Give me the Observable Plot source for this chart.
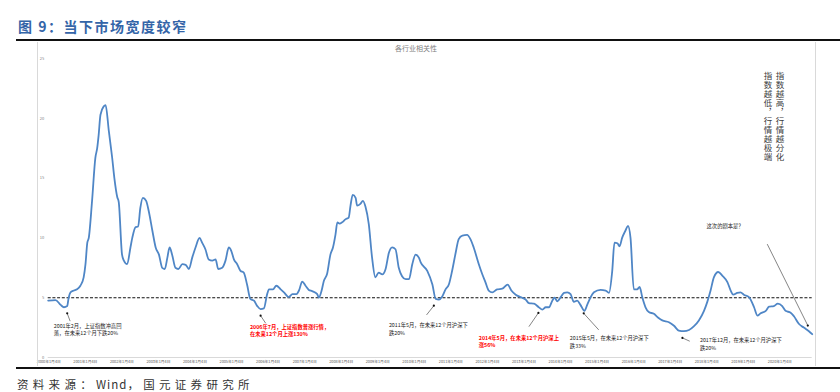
<!DOCTYPE html>
<html><head><meta charset="utf-8">
<script src="https://cdn.jsdelivr.net/npm/d3@7"></script>
<script src="https://cdn.jsdelivr.net/npm/@observablehq/plot@0.6"></script>
<style>
body{margin:0;width:840px;height:392px;position:relative;overflow:hidden;background:#fff;font-family:"Noto Sans CJK SC","Noto Sans",sans-serif;}
.abs{position:absolute;white-space:nowrap}
#chart svg{position:absolute;left:0;top:0}
</style></head><body>
<div id="chart" class="abs" style="left:0;top:0;width:840px;height:392px"></div>
<div class="abs" style="left:37px;top:42px;width:777px;height:324px;border-left:1px solid #d9d9d9;border-right:1px solid #d9d9d9"></div>
<div class="abs" style="left:18px;top:18px;font-size:14px;line-height:16px;font-weight:bold;color:#3465a8;letter-spacing:1.5px">图 9：当下市场宽度较窄</div>
<div class="abs" style="left:16px;top:39px;width:824px;height:2px;background:#111"></div>
<div class="abs" style="left:395px;top:44px;font-size:7px;line-height:8px;color:#808080">各行业相关性</div>
<div class="abs" style="left:762px;top:72px;font-size:8.5px;line-height:12px;letter-spacing:0.5px;color:#404040;writing-mode:vertical-rl">指数越高，行情越分化<br>指数越低，行情越极端</div>
<div class="abs" style="left:16px;top:367px;width:824px;height:2px;background:#111"></div>
<div class="abs" style="left:17px;top:377px;font-size:11.5px;line-height:14px;color:#333;letter-spacing:4.3px">资料来源：<span style="letter-spacing:1px">Wind</span>，国元证券研究所</div>
<script>
// Series: time (decimal year) and breadth index value
const years = [
2000.00,2000.20,2000.34,2000.43,2000.52,2000.56,2000.61,2000.70,2000.79,2000.88,2000.97,
2001.02,2001.07,2001.11,2001.20,2001.29,2001.34,2001.38,2001.43,2001.52,2001.57,2001.66,2001.75,2001.81,2001.89,2001.93,
2002.02,2002.07,2002.16,2002.25,2002.30,2002.39,2002.46,2002.52,2002.59,2002.68,2002.75,2002.85,2002.94,
2003.03,2003.12,2003.19,2003.26,2003.32,2003.39,2003.48,2003.56,2003.67,2003.76,2003.85,2003.94,
2004.03,2004.14,2004.21,2004.30,2004.39,2004.49,2004.58,2004.65,2004.76,2004.85,2004.94,
2005.01,2005.08,2005.17,2005.26,2005.35,2005.44,2005.53,2005.63,2005.72,2005.81,2005.90,2005.99,
2006.04,2006.15,2006.24,2006.36,2006.45,2006.58,2006.68,2006.79,2006.86,2006.95,
2007.04,2007.13,2007.22,2007.36,2007.40,2007.48,2007.54,2007.63,2007.72,2007.79,2007.86,2007.91,2007.97,
2008.04,2008.13,2008.22,2008.27,2008.33,2008.41,2008.45,2008.54,2008.61,2008.68,2008.77,2008.86,2008.95,
2009.04,2009.14,2009.23,2009.32,2009.41,2009.50,2009.59,2009.68,2009.78,2009.87,2009.96,
2010.05,2010.14,2010.19,2010.37,2010.51,2010.60,2010.69,2010.78,2010.87,2010.96,
2011.05,2011.14,2011.23,2011.33,2011.46,2011.55,2011.64,2011.78,2011.87,2011.96,
2012.05,2012.15,2012.28,2012.42,2012.57,2012.67,2012.79,2012.92,
2013.06,2013.15,2013.29,2013.42,2013.52,2013.61,2013.70,2013.79,2013.85,2013.93,
2014.02,2014.11,2014.20,2014.29,2014.38,2014.47,2014.56,2014.67,2014.75,2014.84,2014.93,
2015.11,2015.25,2015.34,2015.43,2015.49,2015.57,2015.63,2015.70,2015.79,2015.86,2015.93,
2016.02,2016.11,2016.18,2016.25,2016.34,2016.43,2016.57,2016.68,2016.80,2016.98,
2017.12,2017.25,2017.39,2017.53,2017.66,2017.80,2017.94,
2018.03,2018.12,2018.21,2018.33,2018.44,2018.58,2018.67,2018.74,2018.85,2018.94,
2019.03,2019.17,2019.31,2019.40,2019.49,2019.63,2019.72,2019.85,2019.96,
2020.08,2020.17,2020.31,2020.40,2020.54,2020.67,2020.81,2020.90
];
const values = [
4.75,4.8,4.4,4.2,4.3,5.0,5.45,5.6,5.7,6.0,6.7,
7.8,9.6,10.0,13.1,16.7,17.5,18.6,20.3,21.0,21.1,18.9,16.7,15.0,13.4,13.0,
8.6,8.1,7.8,9.2,10.0,10.9,10.95,12.5,13.35,13.1,12.25,10.6,9.2,
8.6,7.5,7.4,8.35,9.2,8.6,7.5,7.4,7.8,7.75,7.4,8.35,
9.2,10.0,9.6,9.05,8.2,8.1,8.2,7.4,7.5,8.1,9.2,
8.9,8.2,7.8,7.25,7.1,6.1,4.9,4.75,4.3,4.05,4.1,5.3,
5.7,5.7,6.0,5.7,5.45,5.05,5.3,5.3,5.6,6.35,
6.0,5.65,5.55,5.3,5.0,5.6,6.4,7.0,8.6,9.2,10.3,11.3,11.2,
11.3,11.55,11.7,12.7,13.6,13.35,12.7,12.85,13.1,12.6,11.15,8.35,6.7,
7.1,6.95,7.4,8.75,9.2,9.05,7.5,6.8,6.55,6.55,7.8,
8.6,8.35,7.95,7.25,6.1,4.9,4.85,5.1,5.7,6.1,
7.25,8.65,9.9,10.2,10.25,9.9,9.2,7.8,7.0,6.3,
5.6,5.45,5.7,5.75,6.1,5.6,5.25,5.05,
4.85,4.55,4.5,4.2,4.0,4.2,4.2,4.75,5.0,4.7,
5.05,5.4,5.45,5.3,4.65,4.75,4.4,3.9,4.45,5.05,5.45,
5.65,5.6,5.4,7.25,9.6,9.55,9.3,10.0,10.6,11.0,10.0,
5.7,5.7,5.9,5.05,4.2,3.8,3.65,3.35,3.1,2.95,
2.65,2.25,2.2,2.3,2.6,3.1,3.9,
4.65,5.6,6.7,7.15,6.85,6.3,5.6,5.25,5.4,5.45,
5.25,5.05,4.2,3.5,3.7,3.9,4.25,4.3,4.5,
4.3,3.9,3.75,3.45,2.8,2.5,2.2,1.95
];
const yTicks = [0, 5, 10, 15, 20, 25];
const tickYears = [2000,2001,2002,2003,2004,2005,2006,2007,2008,2009,2010,2011,2012,2013,2014,2015,2016,2017,2018,2019,2020];
const tickLabels = ["2000年1月4日","2001年1月4日","2002年1月4日","2003年1月4日","2004年1月4日","2005年1月4日","2006年1月4日","2007年1月4日","2008年1月4日","2009年1月4日","2010年1月4日","2011年1月4日","2012年1月4日","2013年1月4日","2014年1月4日","2015年1月4日","2016年1月4日","2017年1月4日","2018年1月4日","2019年1月4日","2020年1月4日"];
const refLevel = [5];

// Annotations (anchored in data space)
const annTexts = [
  "2001年2月，上证指数冲高回\n落，在未来12个月下跌20%",
  "2006年7月，上证指数普涨行情，\n在未来12个月上涨130%",
  "2011年5月，在未来12个月沪深下\n跌20%",
  "2014年5月，在未来12个月沪深上\n涨56%",
  "2015年5月，在未来12个月沪深下\n跌33%",
  "2017年12月，在未来12个月沪深下\n跌20%",
  "这次的剧本是？"
];
const annX = [2000.153, 2005.52, 2009.32, 2011.78, 2014.27, 2017.83, 2018.01];
const annY = [2.96, 2.875, 3.0, 1.96, 1.92, 1.75, 11.25];
const annRed = [false, true, false, true, false, false, false];
const arrFromX = [2000.60, 2005.95, 2010.35, 2013.15, 2015.06, 2017.55, 2019.67];
const arrFromY = [3.04, 2.86, 3.56, 2.58, 2.31, 1.36, 9.48];
const arrToX = [2000.52, 2005.81, 2010.55, 2013.41, 2014.65, 2017.35, 2020.78];
const arrToY = [3.69, 3.5, 4.33, 3.73, 3.69, 1.64, 2.67];

const series = years.map((t, i) => ({t, v: values[i]}));
const anns = annTexts.map((text, i) => ({text, x: annX[i], y: annY[i], red: annRed[i]}));
const arrows = arrFromX.map((x, i) => ({x1: x, y1: arrFromY[i], x2: arrToX[i], y2: arrToY[i]}));
const tickPos = tickYears.map(y => y + 0.016);

const plot = Plot.plot({
  width: 840, height: 392,
  marginLeft: 47.7, marginRight: 28.3, marginTop: 58, marginBottom: 35,
  style: {background: "transparent", fontFamily: '"Noto Sans CJK SC","Noto Sans",sans-serif', overflow: "visible"},
  x: {type: "linear", domain: [years[0], years[years.length - 1]]},
  y: {domain: [0, 25]},
  marks: [
    Plot.ruleY([0], {stroke: "#d9d9d9", strokeWidth: 1}),
    Plot.axisY(yTicks, {tickSize: 0, tickPadding: 4, fontSize: 4, fill: "#7f7f7f", label: null}),
    Plot.axisX(tickPos, {tickSize: 0, tickPadding: 3, fontSize: 3.8, fill: "#595959", label: null,
      tickFormat: d => tickLabels[tickPos.indexOf(d)]}),
    Plot.ruleY(refLevel, {stroke: "#111", strokeWidth: 1.1, strokeDasharray: "3,1.7"}),
    Plot.line(series, {x: "t", y: "v", stroke: "#4f86c6", strokeWidth: 1.8, curve: "monotone-x"}),
    Plot.link(arrows, {x1: "x1", y1: "y1", x2: "x2", y2: "y2", stroke: "#333", strokeWidth: 0.6}),
    Plot.dot(arrows, {x: "x2", y: "y2", r: 1.1, fill: "#111", stroke: null}),
    Plot.text(anns.filter(d => !d.red), {x: "x", y: "y", text: "text", textAnchor: "start", lineAnchor: "top",
      fontSize: 5.3, lineHeight: 1.45, fill: "#222"}),
    Plot.text(anns.filter(d => d.red), {x: "x", y: "y", text: "text", textAnchor: "start", lineAnchor: "top",
      fontSize: 5.3, lineHeight: 1.45, fill: "#ff0000", fontWeight: "bold"})
  ]
});
document.getElementById("chart").appendChild(plot);
</script>
</body></html>
